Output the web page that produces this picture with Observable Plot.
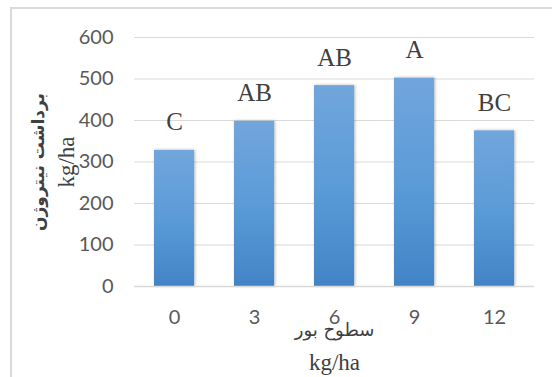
<!DOCTYPE html>
<html>
<head>
<meta charset="utf-8">
<script src="https://cdn.jsdelivr.net/npm/d3@7"></script>
<script src="https://cdn.jsdelivr.net/npm/@observablehq/plot@0.6"></script>
<style>
  html, body { margin: 0; padding: 0; background: #fff; }
  #wrap { position: relative; width: 552px; height: 377px; overflow: hidden; }
  #frame { position: absolute; left: 10px; top: 7px; right: -10px; bottom: -10px;
           border-left: 2.5px solid #d9d9d9; border-top: 2.5px solid #d9d9d9; pointer-events: none; }
</style>
</head>
<body>
<div id="wrap"><div id="frame"></div></div>
<script>
const categories = ["0", "3", "6", "9", "12"];
const values = [328, 398, 484, 502, 375];
const letters = ["C", "AB", "AB", "A", "BC"];
const yTicks = [0, 100, 200, 300, 400, 500, 600];
const xTitle = "سطوح بور";
const yTitle = "برداشت نیتروژن";
const unit = "kg/ha";

const data = categories.map((c, i) => ({cat: c, value: values[i], letter: letters[i]}));

const labelFont = "Lato, 'Open Sans', sans-serif";
const serif = "'Liberation Serif', 'Times New Roman', serif";
const arabic = "'DejaVu Sans', sans-serif";

const chart = Plot.plot({
  width: 552,
  height: 377,
  marginLeft: 134,
  marginRight: 18,
  marginTop: 37,
  marginBottom: 91,
  style: {background: "transparent", overflow: "visible"},
  x: {domain: categories, paddingInner: 0.5, paddingOuter: 0.25, label: null},
  y: {domain: [0, 600], ticks: yTicks, label: null},
  marks: [
    Plot.ruleY(yTicks.filter(d => d > 0), {stroke: "#d9d9d9", strokeWidth: 1.2, strokeOpacity: 1}),
    Plot.barY(data, {x: "cat", y: "value", fill: "url(#barGrad)"}),
    Plot.ruleY([0], {stroke: "#d9d9d9", strokeWidth: 1.5}),
    Plot.text(data, {x: "cat", y: "value", text: "letter", dy: -28, fontSize: 25,
      fontFamily: serif, fill: "#404040"}),
    Plot.axisY({ticks: yTicks, tickSize: 0, tickPadding: 21, fontSize: 20,
      fontFamily: labelFont, color: "#595959", label: null}),
    Plot.axisX({tickSize: 0, tickPadding: 23, fontSize: 20, fontFamily: labelFont,
      color: "#595959", label: null}),
    Plot.text([xTitle], {frameAnchor: "bottom", lineAnchor: "middle", dy: 44, fontSize: 18,
      fontFamily: arabic, fill: "#404040"}),
    Plot.text([unit], {frameAnchor: "bottom", lineAnchor: "middle", dy: 76, fontSize: 23,
      fontFamily: serif, fill: "#404040"}),
    Plot.text([yTitle], {frameAnchor: "left", textAnchor: "middle", dx: -96, rotate: -90,
      fontSize: 17, fontWeight: "bold", fontFamily: arabic, fill: "#404040"}),
    Plot.text([unit], {frameAnchor: "left", textAnchor: "middle", dx: -68, rotate: -90,
      fontSize: 23, fontFamily: serif, fill: "#404040"})
  ]
});

const ns = "http://www.w3.org/2000/svg";
const defs = document.createElementNS(ns, "defs");
defs.innerHTML = `
  <linearGradient id="barGrad" x1="0" y1="0" x2="0" y2="1">
    <stop offset="0" stop-color="#71a6dc"/>
    <stop offset="0.5" stop-color="#5b9bd8"/>
    <stop offset="1" stop-color="#4284c6"/>
  </linearGradient>
  <filter id="barShadow" x="-30%" y="-10%" width="160%" height="120%">
    <feDropShadow dx="1" dy="0" stdDeviation="1.8" flood-color="#000" flood-opacity="0.3"/>
  </filter>`;
chart.insertBefore(defs, chart.firstChild);
chart.querySelectorAll("rect").forEach(r => r.setAttribute("filter", "url(#barShadow)"));
document.getElementById("wrap").appendChild(chart);
chart.style.position = "absolute";
chart.style.left = "0";
chart.style.top = "0";
</script>
</body>
</html>
